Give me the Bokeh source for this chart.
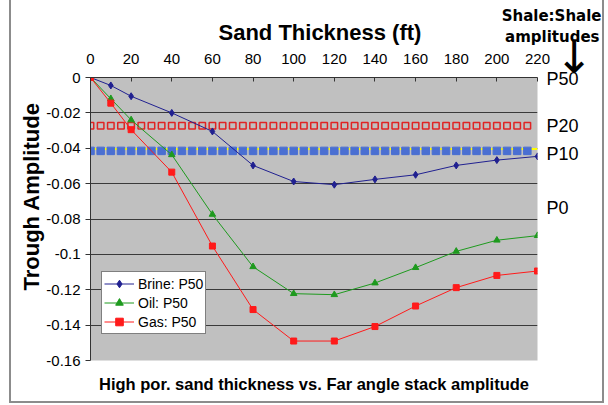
import math
from bokeh.plotting import figure
from bokeh.models import Range1d, FixedTicker, LinearAxis, Title, Legend, LegendItem
from bokeh.embed import file_html
from bokeh.resources import INLINE

# ---- data ----
thickness = [0, 10, 20, 40, 60, 80, 100, 120, 140, 160, 180, 200, 220]
brine_p50 = [0, -0.0045, -0.0106, -0.0200, -0.0305, -0.0497, -0.0588, -0.0606,
             -0.0576, -0.0550, -0.0497, -0.0467, -0.0446]
oil_p50 = [0, -0.0120, -0.0240, -0.0437, -0.0774, -0.1070, -0.1222, -0.1228,
           -0.1162, -0.1075, -0.0983, -0.0920, -0.0894]
gas_p50 = [0, -0.0145, -0.0295, -0.0535, -0.0953, -0.1312, -0.1490, -0.1490,
           -0.1408, -0.1292, -0.1188, -0.1119, -0.1094]

shale_x = [0, 5, 10, 15, 20, 25, 30, 35, 40, 45, 50, 55, 60, 65, 70, 75, 80, 85,
           90, 95, 100, 105, 110, 115, 120, 125, 130, 135, 140, 145, 150, 155,
           160, 165, 170, 175, 180, 185, 190, 195, 200, 205, 210, 215]
shale_p20_value = -0.0273
shale_p10_value = -0.0415
shale_p10_line_value = -0.0404

x_ticks = [0, 20, 40, 60, 80, 100, 120, 140, 160, 180, 200, 220]
y_ticks = [0, -0.02, -0.04, -0.06, -0.08, -0.1, -0.12, -0.14, -0.16]
y_tick_labels = ["0", "-0.02", "-0.04", "-0.06", "-0.08", "-0.1", "-0.12", "-0.14", "-0.16"]

shale_labels = ["P50", "P20", "P10", "P0"]
shale_label_y = [-0.0008, -0.0277, -0.0430, -0.0740]

FONT = "Liberation Sans"
W, H = 608, 405
FRAME_TOP, FRAME_BOTTOM, FRAME_LEFT, FRAME_RIGHT = 77, 360, 90, 537

p = figure(width=W, height=H, x_range=Range1d(0, 220), y_range=Range1d(-0.16, 0),
           x_axis_location="above", output_backend="svg", toolbar_location=None,
           min_border_left=FRAME_LEFT, min_border_right=W - FRAME_RIGHT,
           min_border_top=FRAME_TOP, min_border_bottom=H - FRAME_BOTTOM)
p.background_fill_color = "#C0C0C0"
p.border_fill_color = "white"
p.border_fill_alpha = 0
p.outline_line_color = None
line_css = "linear-gradient(#8c8c8c, #8c8c8c)"
p.styles = {
    "background": (f"{line_css} 9px 0px / 2px 402px no-repeat, "
                   f"{line_css} 602px 0px / 2px 402px no-repeat, "
                   f"{line_css} 9px 401px / 595px 2px no-repeat, white"),
}

p.xgrid.grid_line_color = None
p.ygrid.ticker = FixedTicker(ticks=y_ticks)
p.ygrid.grid_line_color = "#3a3a3a"
p.ygrid.grid_line_width = 1

xa = p.xaxis[0]
xa.ticker = FixedTicker(ticks=x_ticks)
xa.major_tick_in = 4
xa.major_tick_out = 0
xa.minor_tick_line_color = None
xa.axis_line_color = "#333333"
xa.major_tick_line_color = "#333333"
xa.major_label_text_font = FONT
xa.major_label_text_font_size = "15px"
xa.major_label_text_color = "black"
xa.major_label_standoff = 14

ya = p.yaxis[0]
ya.ticker = FixedTicker(ticks=y_ticks)
ya.major_label_overrides = {t: l for t, l in zip(y_ticks, y_tick_labels)}
ya.major_tick_in = 0
ya.major_tick_out = 5
ya.minor_tick_line_color = None
ya.axis_line_color = "#333333"
ya.major_tick_line_color = "#333333"
ya.major_label_text_font = FONT
ya.major_label_text_font_size = "15px"
ya.major_label_text_color = "black"
ya.major_label_standoff = 5

# right-hand P labels of the shale:shale amplitudes
ra = LinearAxis(ticker=FixedTicker(ticks=shale_label_y),
                major_label_overrides={t: l for t, l in zip(shale_label_y, shale_labels)})
ra.axis_line_color = None
ra.major_tick_line_color = None
ra.minor_tick_line_color = None
ra.major_tick_in = 0
ra.major_tick_out = 0
ra.major_label_standoff = 9
ra.major_label_text_font = FONT
ra.major_label_text_font_size = "18px"
ra.major_label_text_color = "black"
p.add_layout(ra, "right")

# shale reference series
p.line(x=[0, 220], y=[shale_p10_line_value, shale_p10_line_value], line_color="#FFFF00", line_width=2)
p.scatter(x=shale_x, y=[shale_p10_value] * len(shale_x), marker="square", size=7.5,
          fill_color="#4A6FD2", line_color="#4A6FD2")
p.scatter(x=shale_x, y=[shale_p20_value] * len(shale_x), marker="square", size=6.5,
          fill_color=None, line_color="#E02424", line_width=1.5)

# main series
bl = p.line(thickness, brine_p50, line_color="#202090", line_width=1)
bm = p.scatter(thickness, brine_p50, marker="diamond", size=7, fill_color="#202090", line_color="#202090")
ol = p.line(thickness, oil_p50, line_color="#1E9A1E", line_width=1)
om = p.scatter(thickness, oil_p50, marker="triangle", size=6.5, fill_color="#1E9A1E", line_color="#1E9A1E")
gl = p.line(thickness, gas_p50, line_color="#FF1A1A", line_width=1)
gm = p.scatter(thickness, gas_p50, marker="square", size=6, fill_color="#FF1A1A", line_color="#FF1A1A")

legend = Legend(items=[LegendItem(label="Brine: P50", renderers=[bl, bm]),
                       LegendItem(label="Oil: P50", renderers=[ol, om]),
                       LegendItem(label="Gas: P50", renderers=[gl, gm])],
                location=(11, 26), orientation="vertical")
legend.label_text_font = FONT
legend.label_text_font_size = "14px"
legend.label_text_color = "black"
legend.glyph_width = 30
legend.glyph_height = 19
legend.label_height = 19
legend.label_standoff = 4
legend.spacing = 0
legend.padding = 2
legend.margin = 0
legend.border_line_color = "black"
legend.border_line_width = 1
legend.background_fill_color = "white"
legend.background_fill_alpha = 1
p.add_layout(legend)


# Titles with negative standoff take no room; they are positioned from the frame edge.
def top_title(text, top_px, size, font=FONT, bold=True, align="left", offset=0.0):
    return Title(text=text, align=align, offset=offset, vertical_align="top",
                 standoff=2.0 * (top_px - FRAME_TOP), text_font=font,
                 text_font_style="bold" if bold else "normal", text_font_size=size,
                 text_color="black")


t_sand = top_title("Sand Thickness (ft)", 19, "22px", align="left", offset=218 - FRAME_LEFT)
t_shale1 = top_title("Shale:Shale", 6.5, "15px", font="DejaVu Sans", align="right",
                     offset=FRAME_RIGHT - 601)
t_shale2 = top_title("amplitudes", 27.5, "15px", font="DejaVu Sans", align="right",
                     offset=FRAME_RIGHT - 599)
t_arrow = top_title("\u2193", 29, "46px", font="DejaVu Sans", bold=False, align="right",
                    offset=FRAME_RIGHT - 593)
p.above = [t_sand, t_shale1, t_shale2, t_arrow] + list(p.above)

t_y = Title(text="Trough Amplitude", align="left", offset=FRAME_BOTTOM - 290,
            vertical_align="top", standoff=2.0 * (18 - FRAME_LEFT), text_font=FONT,
            text_font_style="bold", text_font_size="22px", text_color="black")
p.left = [t_y] + list(p.left)

t_bottom = Title(text="High por. sand thickness vs. Far angle stack amplitude", align="center",
                 vertical_align="bottom", standoff=-2.0 * (392 - FRAME_BOTTOM), text_font=FONT,
                 text_font_style="bold", text_font_size="16.5px", text_color="black")
p.add_layout(t_bottom, "below")

open("out.html", "w").write(file_html(p, INLINE))
